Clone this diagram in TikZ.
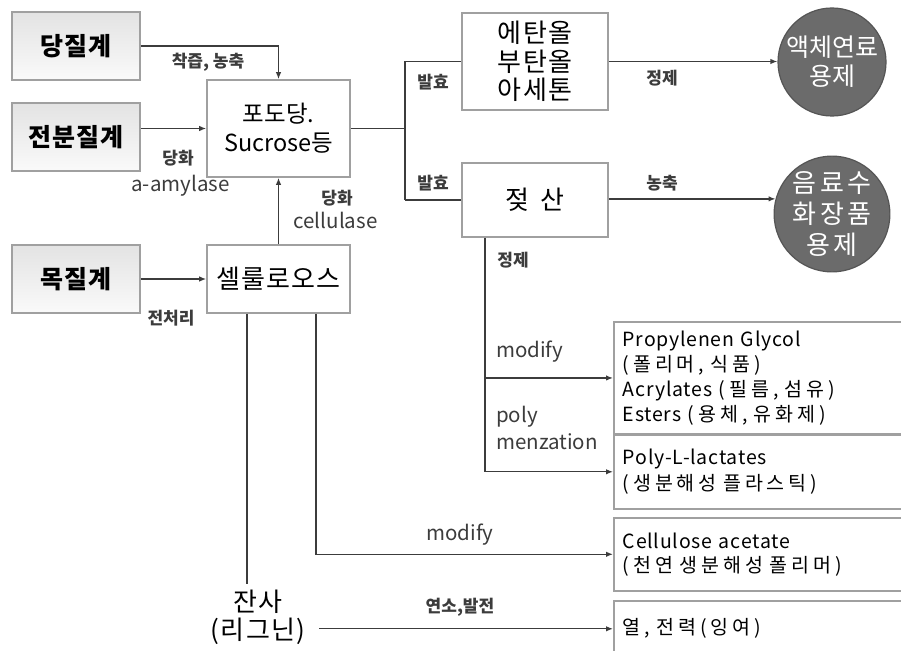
\documentclass[tikz,border=0pt]{standalone}
\usepackage{fontspec}
\setmainfont{Noto Sans CJK KR}
\newfontfamily\latsp[LetterSpace=4]{Noto Sans CJK KR}
\newfontfamily\korsp[LetterSpace=20]{Noto Sans CJK KR}
\newfontfamily\bigsp[LetterSpace=5]{Noto Sans CJK KR}
\newfontfamily\circsp[LetterSpace=14]{Noto Sans CJK KR}
\usetikzlibrary{arrows.meta,shadows}
\definecolor{boxline}{HTML}{A0A0A0}
\definecolor{conn}{HTML}{3C3C3C}
\definecolor{circfill}{HTML}{6B6B6B}
\definecolor{circline}{HTML}{555555}
\begin{document}
\begin{tikzpicture}[x=1pt,y=-1pt,
  srcbox/.style={draw=boxline, line width=1.6pt, top color=gray!22, bottom color=gray!4,
    minimum width=128pt, minimum height=68pt, inner sep=0pt,
    font=\fontsize{25}{28}\selectfont\bigsp\bfseries, drop shadow={shadow xshift=1pt,shadow yshift=-1pt,opacity=0.3}},
  midbox/.style={draw=boxline, line width=1.6pt, fill=white, inner sep=0pt,
    minimum width=143pt, align=center, font=\fontsize{26}{28.5}\selectfont\bigsp},
  prodbox/.style={draw=boxline, line width=1.6pt, fill=white, anchor=north west,
    minimum width=320pt, text width=302pt, inner sep=9pt, align=left,
    font=\fontsize{19.5}{25}\selectfont\latsp},
  endcirc/.style={circle, draw=circline, line width=1.2pt, fill=circfill, text=white,
    minimum size=108pt, inner sep=0pt, align=center},
  arr/.style={draw=conn, line width=1.3pt, -{Latex[length=7pt,width=5.5pt]}},
  ln/.style={draw=conn, line width=1.3pt},
  lblk/.style={font=\fontsize{17}{19}\selectfont\bfseries, text=conn, inner sep=0pt},
  lbl/.style={font=\fontsize{20.5}{22}\selectfont, text=conn, inner sep=0pt}
]
\clip (0,0) rectangle (901,650);
\fill[white] (0,0) rectangle (901,650);

% source boxes
\node[srcbox] (sugar)  at (76,46)  {당질계};
\node[srcbox] (starch) at (76,137) {전분질계};
\node[srcbox] (wood)   at (76,279) {목질계};

% middle boxes
\node[midbox, minimum height=97pt, font=\fontsize{23.5}{29}\selectfont] (glucose) at (278.5,128.5) {포도당.\\Sucrose등};
\node[midbox, minimum height=68pt] (cell) at (278.5,279) {셀룰로오스};
\node[midbox, minimum width=146pt, minimum height=97pt] (ethanol) at (535,61.5) {에탄올\\부탄올\\아세톤};
\node[midbox, minimum width=146pt, minimum height=74pt] (lactic) at (535,200) {젖\hspace{0.45em}산};

% end circles
\node[endcirc, font=\fontsize{25}{29}\selectfont] (fuel) at (832,62) {액체연료\\용제};
\node[endcirc, font=\fontsize{26}{31}\selectfont\circsp] (drink) at (832,214) {음료수\\화장품\\용제};

% product boxes
\node[prodbox, minimum height=105pt] (p1) at (613,321) {Propylenen Glycol\\{\korsp(폴리머, 식품)}\\Acrylates {\korsp(필름, 섬유)}\\Esters {\korsp(용체, 유화제)}};
\node[prodbox, minimum height=74pt, font=\fontsize{19.5}{26}\selectfont\latsp] (p2) at (613,434) {Poly-L-lactates\\{\korsp(생분해성 플라스틱)}};
\node[prodbox, minimum height=73pt, font=\fontsize{19.5}{24}\selectfont\latsp] (p3) at (613,517) {Cellulose acetate\\{\korsp(천연 생분해성 폴리머)}};
\node[prodbox, minimum height=56pt] (p4) at (613,600) {\korsp 열, 전력(잉여)};

% residue
\node[align=center, font=\fontsize{26}{28}\selectfont\bigsp, inner sep=0pt] (res) at (258,617) {잔사\\(리그닌)};

% connectors
\draw[arr] (sugar.east) -| (glucose.north);
\draw[arr] (starch.east |- glucose.west) -- (glucose.west);
\draw[arr] (wood.east) -- (cell.west);
\draw[arr] (cell.north) -- (glucose.south);

\coordinate (br) at (405,128.5);
\draw[ln] (glucose.east) -- (br);
\draw[ln] (br |- ethanol.west) -- (br |- lactic.west);
\draw[ln] (br |- ethanol.west) -- (ethanol.west);
\draw[ln] (br |- lactic.west) -- (lactic.west);

\draw[arr] (ethanol.east) -- (ethanol.east -| fuel.west);
\draw[arr] (lactic.east |- drink.165) -- (drink.165);

\coordinate (ld) at ([xshift=-50pt]lactic.south);
\draw[arr] (ld) |- (p2.west);
\draw[arr] (ld |- p1.west) -- (p1.west);

\coordinate (c1) at ([xshift=-31.5pt]cell.south);
\coordinate (c2) at ([xshift=37.5pt]cell.south);
\draw[ln] (c1) -- ([yshift=6pt]c1 |- res.north);
\draw[arr] (c2) |- (p3.west);
\draw[arr] ([xshift=14pt]res.east |- p4.west) -- (p4.west);

% labels
\node[lblk] (l1) at (208,62) {착즙, 농축};
\node[lblk] (l2) at (178,158) {당화};
\node[lbl] (l3) at (180.5,186) {a-amylase};
\node[lblk] (l4) at (337,198) {당화};
\node[lbl] (l5) at (335.5,220) {cellulase};
\node[lblk] (l6) at (171,318) {전처리};
\node[lblk] (l7) at (433,82) {발효};
\node[lblk] (l8) at (433,183) {발효};
\node[lblk] (l9) at (662,78) {정제};
\node[lblk] (l10) at (662,183) {농축};
\node[lblk] (l11) at (513,260) {정제};
\node[lbl, anchor=west] (l12) at (496,352) {modify};
\node[lbl, anchor=west] (l13) at (496,417) {poly};
\node[lbl, anchor=west] (l14) at (496,442) {menzation};
\node[lbl] (l15) at (460,535) {modify};
\node[lblk] (l16) at (460,607) {연소,발전};
\end{tikzpicture}
\end{document}
